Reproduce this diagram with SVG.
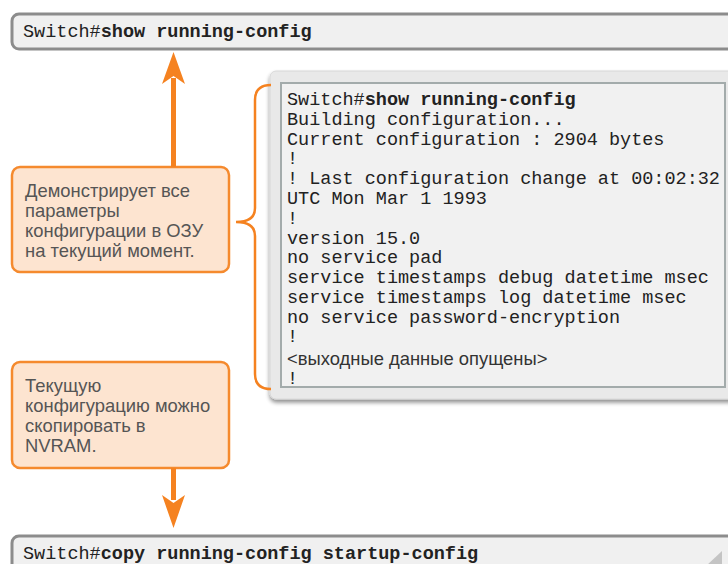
<svg xmlns="http://www.w3.org/2000/svg" width="728" height="564" viewBox="0 0 728 564">
  <defs>
    <style>
      .cmd-box { fill: #f0f0f0; stroke: #8c8c8c; stroke-width: 3; }
      .mono { font-family: "Liberation Mono", "Courier New", monospace; font-size: 18.5px; fill: #222; }
      .bold { font-weight: bold; }
      .sans-out { font-family: "Liberation Sans", Arial, sans-serif; font-size: 18.4px; fill: #333; }
      .note rect { fill: #fde4d0; stroke: #f58a2e; stroke-width: 2.5; }
      .note text { font-family: "Liberation Sans", Arial, "Noto Sans", sans-serif; font-size: 18.4px; fill: #555; }
      .conn { stroke: #f58220; stroke-width: 5; fill: none; }
      .head { fill: #f58220; }
      .brace { stroke: #f58220; stroke-width: 2.5; fill: none; }
    </style>
    <filter id="shadow" x="-5%" y="-5%" width="110%" height="115%">
      <feGaussianBlur in="SourceAlpha" stdDeviation="2"/>
      <feOffset dx="0" dy="3" result="b"/>
      <feComponentTransfer><feFuncA type="linear" slope="0.45"/></feComponentTransfer>
      <feMerge><feMergeNode/><feMergeNode in="SourceGraphic"/></feMerge>
    </filter>
  </defs>

  <rect width="728" height="564" fill="#ffffff"/>

  <!-- command: show running-config -->
  <g id="cmd-show">
    <rect class="cmd-box" x="12" y="14" width="740" height="35" rx="7"/>
    <text class="mono" x="23" y="37">Switch#<tspan class="bold">show running-config</tspan></text>
  </g>

  <!-- output panel -->
  <g id="output-panel">
    <rect x="270" y="71" width="480" height="328" rx="6" fill="#e9e9e9" stroke="#d8d8d8" stroke-width="1" filter="url(#shadow)"/>
    <rect x="281" y="83" width="444" height="304" fill="#f1f1f1" stroke="#a3abab" stroke-width="2"/>
    <text class="mono">
      <tspan x="287" y="105">Switch#<tspan class="bold">show running-config</tspan></tspan>
      <tspan x="287" y="124.8">Building configuration...</tspan>
      <tspan x="287" y="144.6">Current configuration : 2904 bytes</tspan>
      <tspan x="287" y="164.4">!</tspan>
      <tspan x="287" y="184.2">! Last configuration change at 00:02:32</tspan>
      <tspan x="287" y="204">UTC Mon Mar 1 1993</tspan>
      <tspan x="287" y="223.8">!</tspan>
      <tspan x="287" y="243.6">version 15.0</tspan>
      <tspan x="287" y="263.4">no service pad</tspan>
      <tspan x="287" y="283.2">service timestamps debug datetime msec</tspan>
      <tspan x="287" y="303">service timestamps log datetime msec</tspan>
      <tspan x="287" y="322.8">no service password-encryption</tspan>
      <tspan x="287" y="342.4">!</tspan>
      <tspan x="287" y="384">!</tspan>
    </text>
    <text class="sans-out" x="287" y="364.5">&lt;выходные данные опущены&gt;</text>
  </g>

  <!-- note: what the command shows -->
  <g id="note-shows" class="note">
    <rect x="12" y="167" width="217" height="105" rx="8"/>
    <text>
      <tspan x="25" y="196.5">Демонстрирует все</tspan>
      <tspan x="25" y="216.5">параметры</tspan>
      <tspan x="25" y="236.5">конфигурации в ОЗУ</tspan>
      <tspan x="25" y="256.5">на текущий момент.</tspan>
    </text>
  </g>

  <!-- note: copy to NVRAM -->
  <g id="note-copy" class="note">
    <rect x="12" y="362" width="217" height="106" rx="8"/>
    <text>
      <tspan x="25" y="391.5">Текущую</tspan>
      <tspan x="25" y="411.5">конфигурацию можно</tspan>
      <tspan x="25" y="431.5">скопировать в</tspan>
      <tspan x="25" y="451.5">NVRAM.</tspan>
    </text>
  </g>

  <!-- command: copy running-config startup-config -->
  <g id="cmd-copy">
    <rect class="cmd-box" x="12" y="536" width="740" height="50" rx="7"/>
    <text class="mono" x="23" y="559">Switch#<tspan class="bold">copy running-config startup-config</tspan></text>
    <polygon points="722,551 722,566 706,566" fill="#c4c4c4"/>
  </g>

  <!-- connectors -->
  <g id="connectors">
    <line class="conn" x1="173.5" y1="167" x2="173.5" y2="78"/>
    <polygon class="head" points="173.5,52 185,84 173.5,76 162,84"/>
    <line class="conn" x1="173.5" y1="468" x2="173.5" y2="500"/>
    <polygon class="head" points="173.5,528 185,495 173.5,503 162,495"/>
    <path class="brace" d="M271,85 Q255,85 255,100 L255,208 Q255,222 236,222 Q255,222 255,236 L255,374 Q255,389 271,389"/>
  </g>
</svg>
